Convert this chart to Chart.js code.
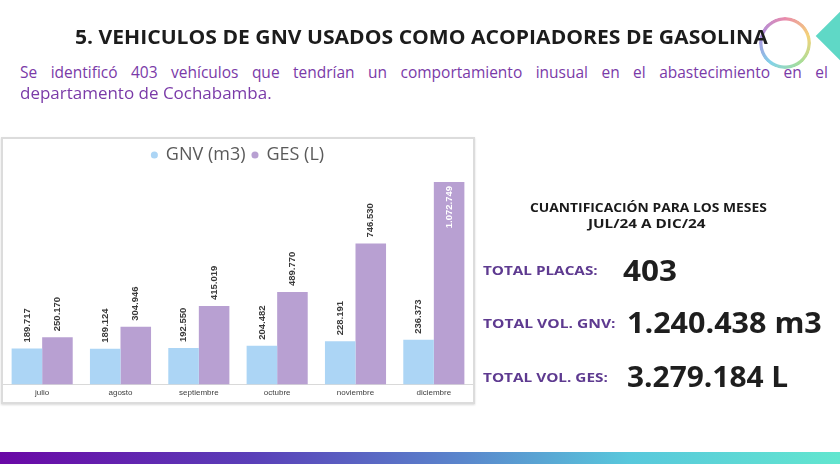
<!DOCTYPE html>
<html>
<head>
<meta charset="utf-8">
<script src="https://cdn.jsdelivr.net/npm/chart.js@4.4.1/dist/chart.umd.min.js"></script>
<style>
  html, body { margin: 0; padding: 0; }
  body { width: 840px; height: 464px; background: #fff; position: relative; overflow: hidden; font-family: "Open Sans", sans-serif; }
  .t { position: absolute; white-space: nowrap; line-height: 1; transform-origin: left center; }
  .title { font-weight: 700; font-size: 19px; color: #1c1c1c; }
  .sub { font-size: 15.5px; color: #7a3aa8; }
  .head { font-weight: 700; font-size: 11.5px; color: #1a1a1a; }
  .lbl { font-weight: 700; font-size: 13px; color: #5e3a90; }
  .big { font-weight: 700; font-size: 28px; color: #1e1e1e; }
  .chartBox { position: absolute; left: 1px; top: 137px; width: 470px; height: 263px; border: 2px solid #dcdcdc; box-shadow: 0 1px 2px rgba(0,0,0,0.15); }
  .chartBox canvas { display: block; }
  .bar { position: absolute; left: 0; top: 452px; width: 840px; height: 12px; background: linear-gradient(90deg, #6a08a6 0%, #5a3fb8 30%, #5a86cc 55%, #58c8dc 75%, #62e6cf 100%); }
  .ring { position: absolute; left: 759px; top: 17px; width: 52px; height: 52px; border-radius: 50%; background: conic-gradient(#e05a8a, #f0c040, #7fd070, #50c0e0, #8a60d0, #e05a8a); -webkit-mask: radial-gradient(circle, transparent 22px, #000 23px); mask: radial-gradient(circle, transparent 22px, #000 23px); opacity: 0.7; }
  .diamond { position: absolute; left: 824px; top: 16px; width: 40px; height: 40px; background: #5fd8c6; transform: rotate(45deg); }
</style>
</head>
<body>
<div class="ring"></div>
<div class="diamond"></div>
<div class="t title" data-x="75" data-y="37" data-w="693">5. VEHICULOS DE GNV USADOS COMO ACOPIADORES DE GASOLINA</div>
<div class="t sub" data-x="20" data-y="73" data-w="808" style="display:flex;justify-content:space-between;"></div>
<div class="t sub" data-x="20" data-y="94" data-w="252">departamento de Cochabamba.</div>

<div class="chartBox"><canvas id="chart" width="470" height="263"></canvas></div>

<div class="t head" data-x="530" data-y="208" data-w="237">CUANTIFICACIÓN PARA LOS MESES</div>
<div class="t head" data-x="588" data-y="224" data-w="117">JUL/24 A DIC/24</div>
<div class="t lbl" data-x="483" data-y="270" data-w="115">TOTAL PLACAS:</div>
<div class="t big" data-x="623" data-y="270" data-w="54">403</div>
<div class="t lbl" data-x="483" data-y="323" data-w="132">TOTAL VOL. GNV:</div>
<div class="t big" data-x="627" data-y="322" data-w="195">1.240.438 m3</div>
<div class="t lbl" data-x="483" data-y="377" data-w="125">TOTAL VOL. GES:</div>
<div class="t big" data-x="627" data-y="376" data-w="161">3.279.184 L</div>

<div class="bar"></div>

<script>
const meses = ['julio', 'agosto', 'septiembre', 'octubre', 'noviembre', 'diciembre'];
const gnv = [189717, 189124, 192550, 204482, 228191, 236373];
const ges = [250170, 304946, 415019, 489770, 746530, 1072749];
const subLine1 = 'Se identificó 403 vehículos que tendrían un comportamiento inusual en el abastecimiento en el';

// spread the first line word by word, like justified text
const sub1 = document.querySelectorAll('.sub')[0];
subLine1.split(' ').forEach(w => {
    const s = document.createElement('span');
    s.textContent = w;
    sub1.appendChild(s);
});

function fmt(n) {
    return String(n).replace(/\B(?=(\d{3})+(?!\d))/g, '.');
}

function placeTexts() {
    document.querySelectorAll('.t').forEach(el => {
        const x = +el.dataset.x, y = +el.dataset.y, w = +el.dataset.w;
        el.style.left = x + 'px';
        el.style.top = (y - el.offsetHeight / 2) + 'px';
        if (el.style.display === 'flex') {
            el.style.width = w + 'px';
        } else {
            el.style.transform = 'scaleX(' + (w / el.offsetWidth) + ')';
        }
    });
}

// rotated value labels above each bar, inside the bar when there is no room
const valueLabels = {
    id: 'valueLabels',
    afterDatasetsDraw(chart) {
        const ctx = chart.ctx;
        const top = chart.chartArea.top;
        ctx.save();
        ctx.font = 'bold 9.5px "Liberation Sans", Arial, sans-serif';
        ctx.textBaseline = 'middle';
        chart.data.datasets.forEach((ds, i) => {
            chart.getDatasetMeta(i).data.forEach((bar, j) => {
                const txt = fmt(ds.data[j]);
                const tw = ctx.measureText(txt).width;
                ctx.save();
                ctx.translate(bar.x, bar.y);
                ctx.rotate(-Math.PI / 2);
                if (bar.y - 6 - tw < top - 10) {
                    ctx.fillStyle = '#ffffff';
                    ctx.textAlign = 'right';
                    ctx.fillText(txt, -4, 0);
                } else {
                    ctx.fillStyle = '#3a3a3a';
                    ctx.textAlign = 'left';
                    ctx.fillText(txt, 6, 0);
                }
                ctx.restore();
            });
        });
        ctx.restore();
    }
};

new Chart(document.getElementById('chart'), {
    type: 'bar',
    data: {
        labels: meses,
        datasets: [{
            label: 'GNV (m3)',
            data: gnv,
            backgroundColor: '#acd5f5',
            categoryPercentage: 0.78,
            barPercentage: 1
        }, {
            label: 'GES (L)',
            data: ges,
            backgroundColor: '#b8a0d2',
            categoryPercentage: 0.78,
            barPercentage: 1
        }]
    },
    options: {
        responsive: false,
        animation: false,
        layout: { padding: { top: 0, bottom: 0, left: 0, right: 0 } },
        plugins: {
            legend: {
                position: 'top',
                labels: {
                    usePointStyle: true,
                    pointStyle: 'circle',
                    boxWidth: 5,
                    boxHeight: 5,
                    padding: 7,
                    color: '#5a5a5a',
                    font: { family: 'Open Sans', size: 18 }
                }
            },
            tooltip: { enabled: false }
        },
        scales: {
            x: {
                grid: { display: false, drawTicks: false },
                border: { display: true, color: '#d9d9d9' },
                ticks: { color: '#404040', padding: 4, font: { family: 'Liberation Sans', size: 8 } }
            },
            y: {
                display: false,
                min: 0,
                max: 1115000
            }
        }
    },
    plugins: [valueLabels]
});

document.fonts.ready.then(placeTexts);
placeTexts();
</script>
</body>
</html>
